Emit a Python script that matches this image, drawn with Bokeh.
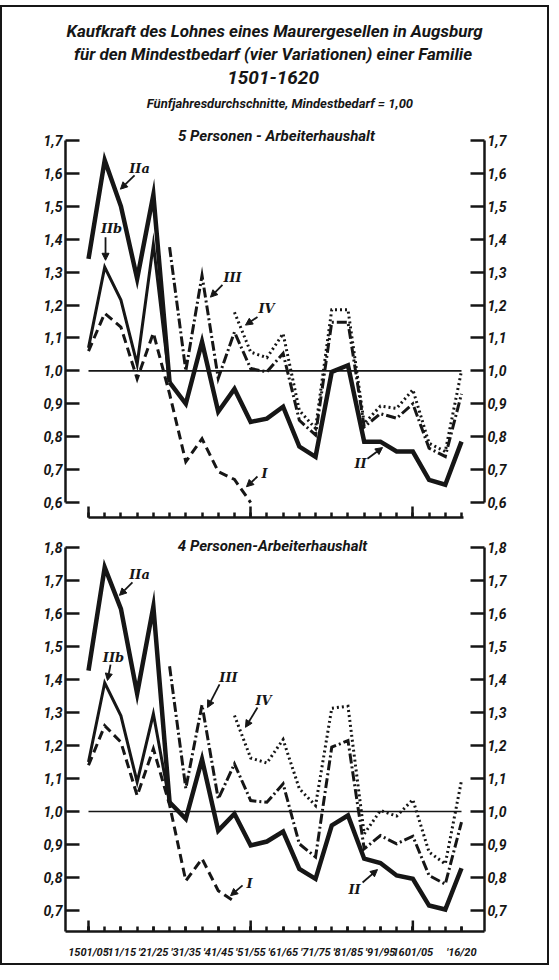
from bokeh.plotting import figure
from bokeh.models import Range1d, LinearAxis, FixedTicker, Label, Arrow, NormalHead, InlineStyleSheet
from bokeh.layouts import column
from bokeh.embed import file_html
from bokeh.resources import INLINE

# ---------------- data ----------------
periods = ["1501/05", "1506/10", "1511/15", "1516/20", "1521/25", "1526/30",
           "1531/35", "1536/40", "1541/45", "1546/50", "1551/55", "1556/60",
           "1561/65", "1566/70", "1571/75", "1576/80", "1581/85", "1586/90",
           "1591/95", "1596/1600", "1601/05", "1606/10", "1611/15", "1616/20"]
x_tick_positions = [0, 2, 4, 6, 8, 10, 12, 14, 16, 18, 20, 23]
x_tick_labels = ["1501/05", "'11/15", "'21/25", "'31/35", "'41/45", "'51/55",
                 "'61/65", "'71/75", "'81/85", "'91/95", "1601/05", "'16/20"]
x_long_ticks = [0, 10, 20]

top_yticks = [0.6, 0.7, 0.8, 0.9, 1.0, 1.1, 1.2, 1.3, 1.4, 1.5, 1.6, 1.7]
top_ylabels = ["0,6", "0,7", "0,8", "0,9", "1,0", "1,1", "1,2", "1,3", "1,4", "1,5", "1,6", "1,7"]
bot_yticks = [0.7, 0.8, 0.9, 1.0, 1.1, 1.2, 1.3, 1.4, 1.5, 1.6, 1.7, 1.8]
bot_ylabels = ["0,7", "0,8", "0,9", "1,0", "1,1", "1,2", "1,3", "1,4", "1,5", "1,6", "1,7", "1,8"]
baseline = 1.0  # Mindestbedarf = 1,00

# first period index of each series
start_IIa, start_IIb, start_II, start_I, start_III, start_IV = 0, 0, 5, 0, 5, 9

# 5 Personen-Arbeiterhaushalt
p5_IIa = [1.34, 1.64, 1.50, 1.28, 1.535, 0.965]
p5_IIb = [1.07, 1.315, 1.215, 1.02, 1.385, 0.965]
p5_II = [0.965, 0.90, 1.088, 0.876, 0.945, 0.845, 0.855, 0.891, 0.77, 0.739,
         0.997, 1.017, 0.785, 0.785, 0.755, 0.755, 0.669, 0.654, 0.785]
p5_I = [1.06, 1.175, 1.133, 0.976, 1.115, 0.93, 0.724, 0.794, 0.694, 0.67, 0.60]
p5_III = [1.376, 1.0, 1.29, 0.977, 1.118, 1.007, 0.997, 1.053, 0.85, 0.805,
          1.148, 1.148, 0.83, 0.87, 0.856, 0.90, 0.765, 0.74, 0.93]
p5_IV = [1.178, 1.057, 1.04, 1.113, 0.88, 0.825, 1.186, 1.186, 0.84, 0.893,
         0.886, 0.943, 0.78, 0.755, 1.0]

# 4 Personen-Arbeiterhaushalt
p4_IIa = [1.427, 1.74, 1.614, 1.357, 1.621, 1.028]
p4_IIb = [1.15, 1.39, 1.29, 1.089, 1.296, 1.028]
p4_II = [1.028, 0.978, 1.158, 0.942, 0.993, 0.897, 0.909, 0.939, 0.826, 0.796,
         0.958, 0.988, 0.857, 0.844, 0.806, 0.796, 0.715, 0.703, 0.828]
p4_I = [1.14, 1.26, 1.21, 1.048, 1.19, 1.02, 0.79, 0.857, 0.76, 0.727]
p4_III = [1.44, 1.07, 1.323, 1.038, 1.144, 1.033, 1.028, 1.084, 0.902, 0.862,
          1.195, 1.215, 0.887, 0.927, 0.902, 0.925, 0.806, 0.78, 0.968]
p4_IV = [1.291, 1.162, 1.147, 1.218, 1.069, 1.018, 1.313, 1.319, 0.932, 1.003,
         0.986, 1.036, 0.877, 0.841, 1.094]

# ---------------- style ----------------
INK = "#161616"
FONT = "Roboto"
W = 549
X_RANGE = (-1.418, 24.418)

# (text, x, y, arrow x0, y0, x1, y1)
top_notes = [("IIa", 3.15, 1.615, 2.84, 1.594, 1.97, 1.552),
             ("IIb", 1.42, 1.433, 1.05, 1.406, 1.05, 1.336),
             ("III", 8.88, 1.285, 8.26, 1.261, 7.52, 1.224),
             ("IV", 10.98, 1.188, 10.42, 1.164, 9.68, 1.139),
             ("I", 10.85, 0.688, 10.42, 0.679, 9.74, 0.648),
             ("II", 16.77, 0.718, 17.2, 0.733, 18.13, 0.767)]
bot_notes = [("IIa", 3.15, 1.718, 2.71, 1.694, 1.91, 1.655),
             ("IIb", 1.54, 1.467, 1.36, 1.445, 1.17, 1.397),
             ("III", 8.63, 1.406, 8.08, 1.385, 7.34, 1.315),
             ("IV", 10.79, 1.336, 10.42, 1.315, 9.68, 1.255),
             ("I", 9.93, 0.782, 9.5, 0.776, 8.76, 0.745),
             ("II", 16.4, 0.764, 16.9, 0.785, 17.82, 0.824)]


def style_yaxis(ax, ticks, labels, bounds):
    ax.ticker = FixedTicker(ticks=ticks)
    ax.major_label_overrides = {t: l for t, l in zip(ticks, labels)}
    ax.major_tick_in = 14
    ax.major_tick_out = 0
    ax.minor_tick_line_color = None
    ax.axis_line_width = 2.5
    ax.axis_line_color = INK
    ax.major_tick_line_width = 2.5
    ax.major_tick_line_color = INK
    ax.major_label_text_font = FONT
    ax.major_label_text_font_style = "bold italic"
    ax.major_label_text_font_size = "14px"
    ax.major_label_text_color = INK
    ax.major_label_standoff = 3
    ax.bounds = bounds


def series(p, start, vals, width, dash="solid"):
    xs = list(range(start, start + len(vals)))
    p.line(xs, vals, line_width=width, line_color=INK, line_dash=dash,
           line_join="miter")


def panel(height, yr, yticks, ylabels, ybounds, title, tx, ty, data, notes,
          bottom_border, labeled):
    p = figure(width=W, height=height, output_backend="svg", toolbar_location=None,
               x_range=Range1d(*X_RANGE), y_range=Range1d(*yr),
               min_border_left=65, min_border_right=65, min_border_top=0,
               min_border_bottom=bottom_border)
    p.outline_line_color = None
    p.grid.visible = False
    p.background_fill_color = None
    p.border_fill_color = None
    style_yaxis(p.yaxis[0], yticks, ylabels, ybounds)
    ra = LinearAxis()
    style_yaxis(ra, yticks, ylabels, ybounds)
    p.add_layout(ra, "right")

    xa = p.xaxis[0]
    xa.axis_line_width = 2.5
    xa.axis_line_color = INK
    xa.major_tick_line_width = 2.5
    xa.major_tick_line_color = INK
    xa.minor_tick_line_width = 2.5
    xa.minor_tick_line_color = INK
    xa.major_tick_out = 0
    xa.minor_tick_out = 0
    xa.minor_tick_in = 5
    if labeled:
        xa.ticker = FixedTicker(ticks=x_tick_positions,
                                minor_ticks=list(range(len(periods))))
        xa.major_tick_in = 5
        xa.major_label_overrides = {t: l for t, l in zip(x_tick_positions, x_tick_labels)}
        xa.major_label_text_font = FONT
        xa.major_label_text_font_style = "bold italic"
        xa.major_label_text_font_size = "11px"
        xa.major_label_text_color = INK
        xa.major_label_standoff = 14
        p.segment(x0=x_long_ticks, x1=x_long_ticks,
                  y0=[yr[0]] * len(x_long_ticks),
                  y1=[yr[0] + 11 / 330] * len(x_long_ticks),
                  line_width=2.5, line_color=INK)
    else:
        xa.ticker = FixedTicker(ticks=x_long_ticks,
                                minor_ticks=list(range(len(periods))))
        xa.major_tick_in = 11
        xa.major_label_overrides = {t: "" for t in x_long_ticks}
        xa.major_label_text_font_size = "1px"
        xa.major_label_standoff = 0
        xa.bounds = (0, len(periods) - 0.9)

    # Mindestbedarf line
    p.line([0, len(periods) - 1], [baseline, baseline], line_width=1.6, line_color=INK)

    IIa, IIb, II, I, III, IV = data
    series(p, start_I, I, 3.0, "9 5")
    series(p, start_IV, IV, 3.0, "2 3")
    series(p, start_III, III, 3.0, "10 3 2 3")
    series(p, start_IIb, IIb, 3.0)
    series(p, start_IIa, IIa, 4.5)
    series(p, start_II, II, 4.5)

    p.add_layout(Label(x=tx, y=ty, text=title, text_font=FONT, text_font_style="bold italic",
                       text_font_size="15px", text_color=INK, text_align="center",
                       text_baseline="middle"))
    for (t, x, y, ax0, ay0, ax1, ay1) in notes:
        p.add_layout(Label(x=x, y=y, text=t, text_font="DejaVu Serif",
                           text_font_style="bold italic", text_font_size="13px",
                           text_color=INK, text_align="center", text_baseline="middle"))
        p.add_layout(Arrow(end=NormalHead(size=7, fill_color=INK, line_color=INK),
                           x_start=ax0, y_start=ay0, x_end=ax1, y_end=ay1,
                           line_width=1.8, line_color=INK))
    return p


top = panel(399, (0.6 - 15 / 330, 1.7 + 12 / 330), top_yticks, top_ylabels, (0.6, 1.7),
            "5 Personen - Arbeiterhaushalt", 11.59, 1.715,
            (p5_IIa, p5_IIb, p5_II, p5_I, p5_III, p5_IV), top_notes, 10, False)
bot = panel(438, (0.7 - 21 / 330, 1.8 + 20 / 330), bot_yticks, bot_ylabels,
            (0.7 - 21 / 330, 1.8),
            "4 Personen-Arbeiterhaushalt", 11.35, 1.806,
            (p4_IIa, p4_IIb, p4_II, p4_I, p4_III, p4_IV), bot_notes, 34, True)

# ---------------- header ----------------
HH = 123
hdr = figure(width=W, height=HH, output_backend="svg", toolbar_location=None,
             x_range=Range1d(0, W), y_range=Range1d(HH, 0),
             x_axis_type=None, y_axis_type=None, min_border=0)
hdr.outline_line_color = None
hdr.grid.visible = False
hdr.background_fill_color = None
hdr.border_fill_color = None
head_lines = [("Kaufkraft des Lohnes eines Maurergesellen in Augsburg", 274, 25, "17px"),
              ("für den Mindestbedarf (vier Variationen) einer Familie", 272, 48, "17px"),
              ("1501-1620", 272, 72, "19px"),
              ("Fünfjahresdurchschnitte, Mindestbedarf = 1,00", 281, 98, "13px")]
for t, x, y, fs in head_lines:
    hdr.add_layout(Label(x=x, y=y, text=t, text_font=FONT, text_font_style="bold italic",
                         text_font_size=fs, text_color=INK, text_align="center",
                         text_baseline="middle"))

frame_css = InlineStyleSheet(css=":host { outline: 2px solid #161616 !important; "
                                 "outline-offset: -2px; margin-top: 5px !important; }")
layout = column(hdr, top, bot, spacing=0, stylesheets=[frame_css],
                styles={"outline": "2px solid #161616", "outline-offset": "-2px",
                        "margin-top": "5px"})

open("out.html", "w").write(file_html(layout, INLINE))
